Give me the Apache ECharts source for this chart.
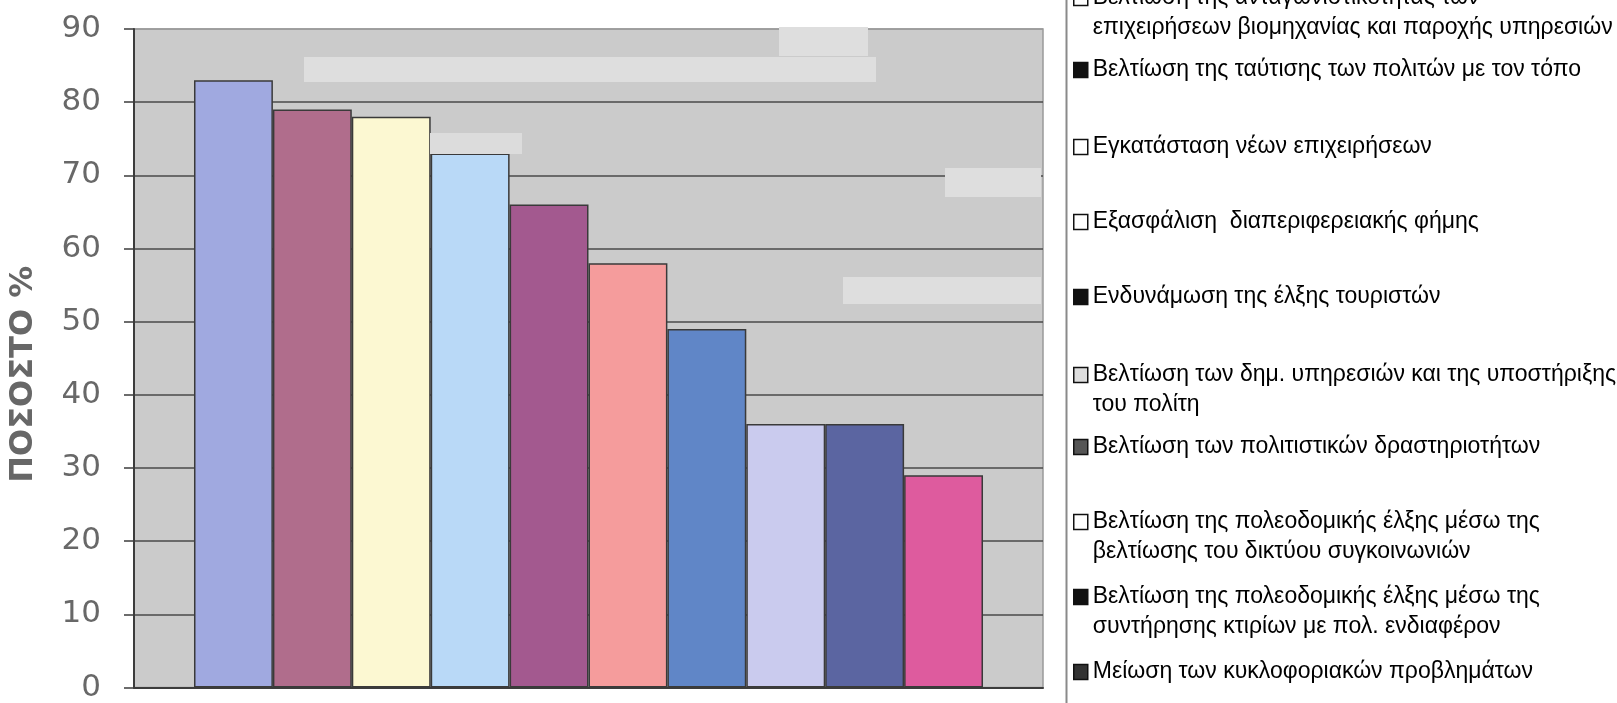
<!DOCTYPE html>
<html>
<head>
<meta charset="utf-8">
<script src="https://cdn.jsdelivr.net/npm/echarts@6/dist/echarts.min.js"></script>
<style>
  html, body { margin: 0; padding: 0; background: #fff; }
  #chart { width: 1617px; height: 703px; }
</style>
</head>
<body>
<div id="chart"></div>
<script>
// legend labels (one series per bar, Excel style)
const seriesNames = [
  "Βελτίωση της ανταγωνιστικότητας των\nεπιχειρήσεων βιομηχανίας και παροχής υπηρεσιών",
  "Βελτίωση της ταύτισης των πολιτών με τον τόπο",
  "Εγκατάσταση νέων επιχειρήσεων",
  "Εξασφάλιση  διαπεριφερειακής φήμης",
  "Ενδυνάμωση της έλξης τουριστών",
  "Βελτίωση των δημ. υπηρεσιών και της υποστήριξης\nτου πολίτη",
  "Βελτίωση των πολιτιστικών δραστηριοτήτων",
  "Βελτίωση της πολεοδομικής έλξης μέσω της\nβελτίωσης του δικτύου συγκοινωνιών",
  "Βελτίωση της πολεοδομικής έλξης μέσω της\nσυντήρησης κτιρίων με πολ. ενδιαφέρον",
  "Μείωση των κυκλοφοριακών προβλημάτων"
];
const seriesValues = [83, 79, 78, 73, 66, 58, 49, 36, 36, 29];
const yTickLabels = ["0", "10", "20", "30", "40", "50", "60", "70", "80", "90"];

// styles
const barColors = ["#a0a9e0", "#b06d8c", "#fcf8d2", "#b9d9f7", "#a3598f",
                   "#f59c9c", "#6086c7", "#cacbee", "#5b65a1", "#de5b9e"];
const legendFills = ["#ffffff", "#111111", "#ffffff", "#ffffff", "#111111",
                     "#dddddd", "#555555", "#ffffff", "#111111", "#333333"];
// y of the first text line of each legend entry
const legendRows = [-2, 70, 147, 222, 297, 375, 447, 522, 597, 672];
const LH = 30;

const chart = echarts.init(document.getElementById("chart"));

const legends = seriesNames.map((name, i) => {
  const twoLines = name.indexOf("\n") >= 0;
  return {
    orient: "vertical",
    left: 1073,
    top: legendRows[i] - (twoLines ? 1.5 * LH : LH / 2),
    padding: 0,
    icon: "rect",
    itemWidth: 14,
    itemHeight: 15,
    selectedMode: false,
    data: [name],
    // empty first line keeps the icon beside the first text line
    formatter: (n) => (twoLines ? " \n" + n : n),
    itemStyle: { color: legendFills[i], borderColor: "#111", borderWidth: 1.5 },
    textStyle: {
      fontFamily: "Liberation Sans",
      fontSize: 23,
      color: "#000",
      lineHeight: LH
    }
  };
});

chart.setOption({
  animation: false,
  backgroundColor: "#ffffff",
  grid: {
    left: 133,
    top: 29,
    width: 910,
    height: 660,
    show: true,
    backgroundColor: "#cbcbcb",
    borderColor: "#9a9a9a",
    borderWidth: 1.5
  },
  legend: legends,
  xAxis: {
    type: "category",
    data: [""],
    axisLine: { lineStyle: { color: "#3c3c3c", width: 2 } },
    axisTick: { show: false },
    axisLabel: { show: false }
  },
  yAxis: {
    type: "value",
    min: 0,
    max: 90,
    interval: 10,
    name: "{t|ΠΟΣΟΣΤΟ %}",
    nameLocation: "middle",
    nameRotate: 90,
    nameGap: 94,
    nameTextStyle: {
      rich: {
        t: {
          fontFamily: "DejaVu Sans",
          fontWeight: "bold",
          fontSize: 32,
          color: "#676767",
          padding: [0, 32, 0, 0]
        }
      }
    },
    axisLine: { show: true, lineStyle: { color: "#3c3c3c", width: 2 } },
    axisTick: { show: true, length: 10, lineStyle: { color: "#3c3c3c", width: 1.5 } },
    axisLabel: {
      margin: 33,
      fontFamily: "DejaVu Sans",
      fontSize: 31,
      color: "#686868",
      formatter: (v) => yTickLabels[Math.round(v / 10)]
    },
    splitLine: {
      show: true,
      lineStyle: {
        color: ["#4a4a4a", "#4a4a4a", "#4a4a4a", "#4a4a4a", "#4a4a4a",
                "#4a4a4a", "#4a4a4a", "#4a4a4a", "#4a4a4a", "#9a9a9a"],
        width: 1.5
      }
    }
  },
  series: seriesNames.map((name, i) => ({
    name: name,
    type: "bar",
    barGap: "0%",
    barCategoryGap: "13.2%",
    data: [seriesValues[i]],
    itemStyle: { color: barColors[i], borderColor: "#3a3a3a", borderWidth: 1.5 }
  })),
  graphic: [
    // legend frame
    { type: "rect", left: 1064, top: -10, z: 10,
      shape: { width: 600, height: 730 },
      style: { fill: "none", stroke: "#8a8a8a", lineWidth: 2 } },
    // scan smudges in the plot area
    { type: "rect", left: 304, top: 57, z: 10, shape: { width: 572, height: 25 },
      style: { fill: "#dedede" } },
    { type: "rect", left: 779, top: 27, z: 10, shape: { width: 89, height: 29 },
      style: { fill: "#dedede" } },
    { type: "rect", left: 430, top: 133, z: 10, shape: { width: 92, height: 21 },
      style: { fill: "#dcdcdc" } },
    { type: "rect", left: 945, top: 168, z: 10, shape: { width: 96, height: 29 },
      style: { fill: "#dedede" } },
    { type: "rect", left: 843, top: 277, z: 10, shape: { width: 198, height: 27 },
      style: { fill: "#dedede" } }
  ]
});
</script>
</body>
</html>
